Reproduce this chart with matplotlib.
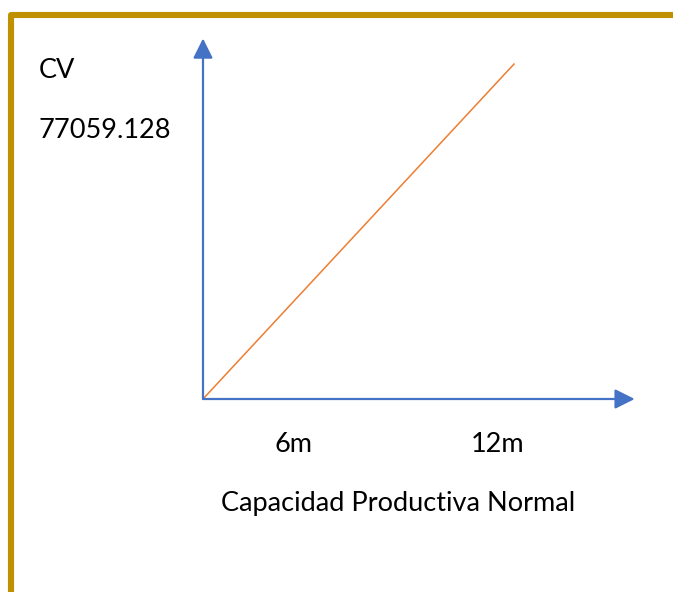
import matplotlib
matplotlib.use("Agg")
import matplotlib.pyplot as plt
from matplotlib.patches import Rectangle

# Data
x_values = [0, 12]
cv_values = [0, 77059.128]
tick_labels = ["6m", "12m"]
y_title = "CV"
y_value_label = "77059.128"
x_title = "Capacidad Productiva Normal"

W, H = 673, 592
fig = plt.figure(figsize=(W / 100, H / 100), dpi=100)
FONT = "Lato"
FS = 19.5

# Gold border (left and top)
border = Rectangle((11 / W, -0.2), 1.5, 1.2 - 15 / H, transform=fig.transFigure,
                   fill=False, edgecolor="#BF9000", linewidth=4.4,
                   joinstyle="round", clip_on=False)
fig.patches.append(border)

# Axes: origin at pixel (203, 399)
x0_px, y0_px = 203, 399
xmax, ymax = 16.63, 82810.0
px_per_x = (514.5 - x0_px) / 12
px_per_y = (y0_px - 63.5) / 77059.128
ax_w = xmax * px_per_x
ax_h = ymax * px_per_y
ax = fig.add_axes([x0_px / W, 1 - y0_px / H, ax_w / W, ax_h / H])
ax.set_xlim(0, xmax)
ax.set_ylim(0, ymax)
ax.axis("off")

blue = "#4472C4"
orange = "#ED7D31"
arrow_kw = dict(arrowstyle="-|>,head_length=0.8,head_width=0.4", color=blue,
                lw=1.6, mutation_scale=15, shrinkA=0, shrinkB=0)
ax.annotate("", xy=(xmax, 0), xytext=(0, 0), arrowprops=arrow_kw,
            annotation_clip=False)
ax.annotate("", xy=(0, ymax), xytext=(0, 0), arrowprops=arrow_kw,
            annotation_clip=False)

ax.plot(x_values, cv_values, color=orange, lw=1.1, solid_capstyle="butt",
        clip_on=False)

# Tick labels
tick_pos = [(293 - x0_px) / px_per_x, (498 - x0_px) / px_per_x]
for pos, lab in zip(tick_pos, tick_labels):
    ax.text(pos, -(444 - y0_px) / px_per_y, lab, ha="center", va="center",
            fontsize=FS, family=FONT, color="#000000", clip_on=False)

fig.text(398 / W, 1 - 504 / H, x_title, ha="center", va="center",
         fontsize=FS, family=FONT, color="#000000")
fig.text(39 / W, 1 - 71 / H, y_title, ha="left", va="center",
         fontsize=FS, family=FONT, color="#000000")
fig.text(38 / W, 1 - 131 / H, y_value_label, ha="left", va="center",
         fontsize=FS, family=FONT, color="#000000")

fig.savefig("out.png", dpi=100, facecolor="white")
